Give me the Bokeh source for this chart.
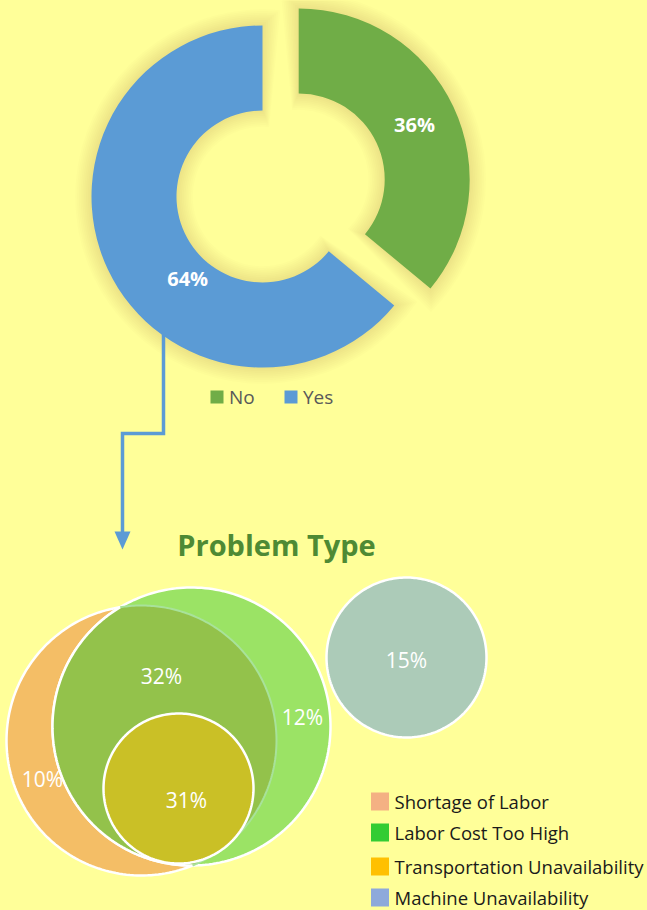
import math
import numpy as np
from bokeh.plotting import figure
from bokeh.models import Range1d
from bokeh.core.properties import value
from bokeh.embed import file_html
from bokeh.resources import INLINE

# ---------------- data ----------------
answer_labels = ["No", "Yes"]
answer_shares = [36, 64]
answer_colors = ["#70AD47", "#5B9BD5"]

problem_types = ["Shortage of Labor", "Labor Cost Too High",
                 "Transportation Unavailability", "Machine Unavailability"]
problem_legend_colors = ["#F4B183", "#33CC33", "#FFC000", "#8EA9DB"]

region_names = ["Shortage only", "Shortage & Cost", "Cost only", "Transportation", "Machine"]
region_values = [10, 32, 12, 31, 15]

title_text = "Problem Type"

# ---------------- layout (reference pixel coords, y down) ----------------
W, H = 647, 910
def Y(y):
    return H - y

BG = "#FFFF99"
FONT = "Open Sans"

p = figure(width=W, height=H, x_range=Range1d(0, W), y_range=Range1d(0, H),
           output_backend="svg", toolbar_location=None, min_border=0,
           x_axis_location=None, y_axis_location=None)
p.grid.visible = False
p.outline_line_color = None
p.background_fill_color = BG
p.border_fill_color = BG

# ---------- donut ----------
cx, cy = 262, Y(196)
r_in, r_out = 86, 171
explode = 40
label_r = [128, 111]
label_ang_override = [None, 227.6]

slices = []
ang = 90.0
for lab, share, col in zip(answer_labels, answer_shares, answer_colors):
    span = share / sum(answer_shares) * 360.0
    if lab == "No":
        s, e = ang - span, ang
    else:
        s, e = ang, ang + span
    slices.append((lab, share, col, s, e))
centers = []
for lab, share, col, s, e in slices:
    mid = math.radians((s + e) / 2)
    off = explode if lab == "No" else 0
    centers.append((cx + off * math.cos(mid), cy + off * math.sin(mid)))

# soft glow
for i in range(1, 10):
    pad = i * 1.8
    for (lab, share, col, s, e), (x0, y0) in zip(slices, centers):
        da = math.degrees(pad / r_out)
        p.annular_wedge(x=[x0], y=[y0], inner_radius=r_in - pad, outer_radius=r_out + pad,
                        start_angle=[math.radians(s - da)], end_angle=[math.radians(e + da)],
                        fill_color="#958f45", fill_alpha=0.022, line_color=None)

# connector arrow
p.line(x=[163, 163, 122, 122], y=[Y(330), Y(433), Y(433), Y(536)],
       line_color="#5B9BD5", line_width=3.5, line_join="miter")
p.patch(x=[114, 130, 122], y=[Y(531), Y(531), Y(549)], fill_color="#5B9BD5", line_color=None)

for idx, ((lab, share, col, s, e), (x0, y0)) in enumerate(zip(slices, centers)):
    p.annular_wedge(x=[x0], y=[y0], inner_radius=r_in, outer_radius=r_out,
                    start_angle=[math.radians(s)], end_angle=[math.radians(e)],
                    fill_color=col, line_color=None)
    a = label_ang_override[idx] if label_ang_override[idx] is not None else (s + e) / 2
    lx = x0 + label_r[idx] * math.cos(math.radians(a))
    ly = y0 + label_r[idx] * math.sin(math.radians(a))
    p.text(x=[lx], y=[ly], text=[f"{share}%"], text_color="white", text_font=value(FONT),
           text_font_style="bold", text_font_size="20px", text_align="center",
           text_baseline="middle")

# donut legend
leg_x = [216.5, 290.5]
for lx, lab, col in zip(leg_x, answer_labels, answer_colors):
    p.scatter(x=[lx], y=[Y(396.5)], marker="square", size=13, fill_color=col, line_color=None)
    p.text(x=[lx + 12], y=[Y(396)], text=[lab], text_color="#595959", text_font=value(FONT),
           text_font_size="19px", text_baseline="middle")

# ---------- title ----------
p.text(x=[276], y=[Y(544)], text=[title_text], text_color="#4E8A34", text_font=value(FONT),
       text_font_style="bold", text_font_size="29px", text_align="center", text_baseline="middle")

# ---------- venn ----------
def circle_pts(x0, y0, r, a0, a1, n=200):
    t = np.linspace(a0, a1, n)
    return x0 + r * np.cos(t), y0 + r * np.sin(t)

orange = (141, Y(740), 135)
green = (191, Y(726), 139)
transport = (178, Y(788), 75)
machine = (406, Y(657), 80)

def full(c):
    return circle_pts(c[0], c[1], c[2], 0, 2 * np.pi, 240)

ox, oy = full(orange)
p.patch(ox, oy, fill_color="#F4BE66", line_color="white", line_width=2.5)
gx, gy = full(green)
p.patch(gx, gy, fill_color="#9BE365", line_color="white", line_width=2.5)

# lens (overlap of orange & green)
(x1, y1, r1), (x2, y2, r2) = orange, green
d = math.hypot(x2 - x1, y2 - y1)
phi = math.atan2(y2 - y1, x2 - x1)
a = (r1 ** 2 - r2 ** 2 + d ** 2) / (2 * d)
al1 = math.acos(a / r1)
al2 = math.acos((d - a) / r2)
ax1, ay1 = circle_pts(x1, y1, r1, phi - al1, phi + al1)
ax2, ay2 = circle_pts(x2, y2, r2, phi + math.pi - al2, phi + math.pi + al2)
p.patch(np.concatenate([ax1, ax2]), np.concatenate([ay1, ay2]),
        fill_color="#93C24B", line_color=None)
p.line(ax1, ay1, line_color="#A8E29A", line_width=2)
p.line(ax2, ay2, line_color="white", line_width=2.5)

tx, ty = full(transport)
p.patch(tx, ty, fill_color="#CAC026", line_color="white", line_width=2.5)
mx, my = full(machine)
p.patch(mx, my, fill_color="#ACCBB8", line_color="white", line_width=2.5)

region_label_pos = [(42, 778), (161, 675), (302, 716), (186, 799), (406, 659)]
for (rx, ry), v in zip(region_label_pos, region_values):
    p.text(x=[rx], y=[Y(ry)], text=[f"{v}%"], text_color="white", text_font=value(FONT),
           text_font_size="21px", text_align="center", text_baseline="middle")

# venn legend
leg_rows = [801, 832, 866, 897]
for ry, name, col in zip(leg_rows, problem_types, problem_legend_colors):
    p.scatter(x=[379.5], y=[Y(ry)], marker="square", size=18, fill_color=col, line_color=None)
    p.text(x=[394], y=[Y(ry)], text=[name], text_color="#1A1A1A", text_font=value(FONT),
           text_font_size="18.5px", text_baseline="middle")

html = file_html(p, INLINE, title="Problem Type")
k = html.rfind("</head>")
html = html[:k] + "<style>html,body{background-color:#FFFF99;}</style>" + html[k:]
open("out.html", "w").write(html)
